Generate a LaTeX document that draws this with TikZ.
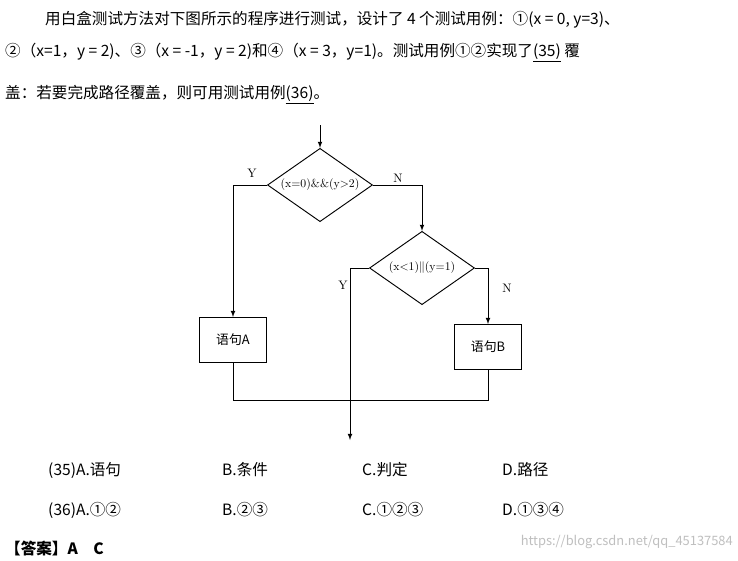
\documentclass[tikz,border=0pt]{standalone}
\usepackage{fontspec}
\newfontfamily\cjk{Noto Sans CJK SC}
\usetikzlibrary{shapes.geometric}
\tikzset{
  txt/.style={anchor=west, inner sep=0pt, font=\cjk\fontsize{13.3}{15}\selectfont},
  dec/.style={diamond, draw, thick, aspect=1.45, inner sep=0pt, minimum width=3.15cm, minimum height=2.2cm, font=\fontsize{10}{11}\selectfont},
  stmt/.style={rectangle, draw, thick, minimum width=2.0cm, minimum height=1.35cm, font=\cjk\fontsize{11}{12}\selectfont},
  lbl/.style={font=\fontsize{10.5}{12}\selectfont, inner sep=1pt},
  flow/.style={thick, ->, >=latex}
}
\begin{document}
\begin{tikzpicture}[x=0.03cm, y=-0.03cm]
\useasboundingbox[fill=white] (0,0) rectangle (738,560);
% question text
\node[txt] (line1) at (45,20) {用白盒测试方法对下图所示的程序进行测试，设计了 4 个测试用例：①(x = 0, y=3)、};
\node[txt] (line2) at (5,53) {②（x=1，y = 2)、③（x = -1，y = 2)和④（x = 3，y=1)。测试用例①②实现了\underline{(35)} 覆};
\node[txt] (line3) at (5,95) {盖：若要完成路径覆盖，则可用测试用例\underline{(36)}。};
% flowchart
\coordinate (top) at (320,125);
\node[dec] (d1) at (320,185) {(x=0)\&\&(y>2)};
\node[dec] (d2) at (422,268) {(x<1)$\|$(y=1)};
\node[stmt] (sa) at (233,340) {语句A};
\node[stmt] (sb) at (488,347) {语句B};
\coordinate (jl) at (233,400);
\coordinate (jr) at (488,400);
\coordinate (out) at (350,440);
\draw[flow] (top) -- (d1.north);
\draw[flow] (d1.west) -| (sa.north);
\draw[flow] (d1.east) -| (d2.north);
\draw[thick] (d2.west) -| (out |- jl);
\draw[flow] (d2.east) -| (sb.north);
\draw[thick] (sa.south) -- (jl) -- (jr) -- (sb.south);
\draw[flow] (out |- jl) -- (out);
\node[lbl] (ly1) at (252,173) {Y};
\node[lbl] (ln1) at (398,178) {N};
\node[lbl] (ly2) at (343,285) {Y};
\node[lbl] (ln2) at (507,288) {N};
% options
\node[txt] (a35) at (48,470) {(35)A.语句};
\node[txt] (b35) at (222,470) {B.条件};
\node[txt] (c35) at (362,470) {C.判定};
\node[txt] (d35) at (502,470) {D.路径};
\node[txt] (a36) at (48,510) {(36)A.①②};
\node[txt] (b36) at (222,510) {B.②③};
\node[txt] (c36) at (362,510) {C.①②③};
\node[txt] (d36) at (502,510) {D.①③④};
\node[txt, font=\cjk\bfseries\fontsize{13.3}{15}\selectfont] (ans) at (5,548) {【答案】A\quad C};
\node[anchor=east, inner sep=0pt, text=black!25, font=\cjk\fontsize{11}{12}\selectfont] (wm) at (733,542) {https://blog.csdn.net/qq\_45137584};
\end{tikzpicture}
\end{document}
